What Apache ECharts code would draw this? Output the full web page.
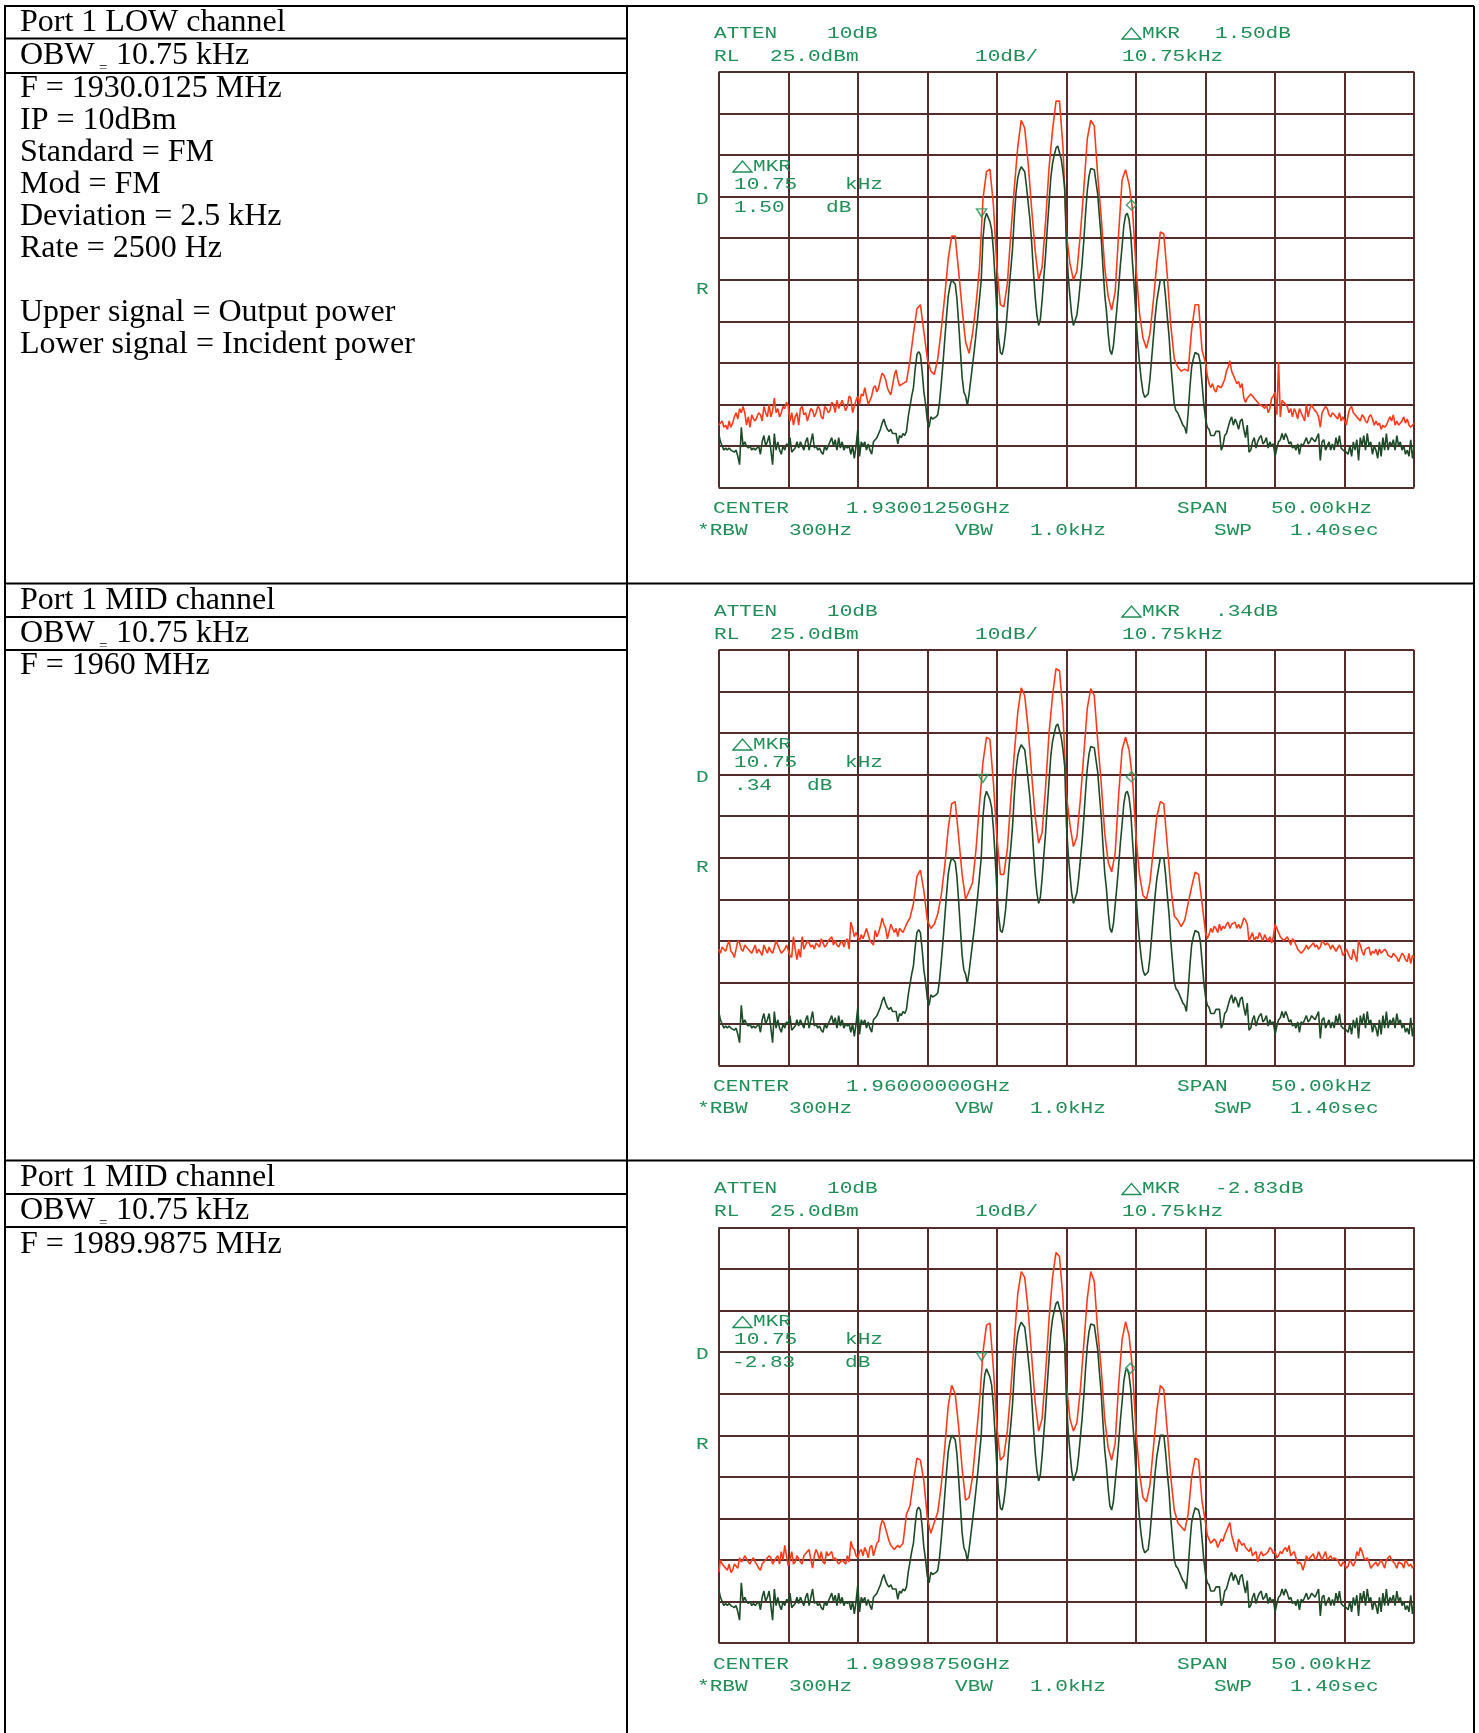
<!DOCTYPE html>
<html><head><meta charset="utf-8">
<style>html,body{margin:0;padding:0;background:#fff}#c{width:1479px;height:1733px}</style>
<script src="https://cdn.jsdelivr.net/npm/echarts@6/dist/echarts.min.js"></script>
</head><body><div id="c"></div>
<script>
// Axis scale of the analyzer screens
const spanKHz = [0, 50];
const levelDBm = [-75, 25];
// Incident power (lower trace), 50 kHz sweep in 0.125 kHz steps, same on all screens (dBm)
const incidentPower = [
-62,-64,-65,-66,-65.5,-66,-65.5,-66,
-66,-66.5,-66,-67.5,-69.5,-60.5,-65,-64,
-65,-65.5,-65,-66,-65.5,-66,-66,-65,
-67,-64,-62.5,-65,-64,-62.5,-66,-69.5,
-62,-66,-64,-66,-67,-65,-66,-64.5,
-65,-63,-66.5,-66,-65.5,-64,-65.5,-64,
-65,-66,-64,-63,-66,-64,-62,-65.5,
-65,-66,-65.5,-66.5,-67,-65,-66,-65,
-65,-63,-65,-63.5,-66,-63,-65.5,-64,
-66,-65,-65.5,-65,-67,-65,-68,-65,
-61,-67.5,-64,-65,-64,-66,-64.5,-66,
-67,-64,-64,-63,-62,-61,-59.5,-58.5,
-60,-61,-61.5,-61,-62,-62,-62,-64.5,
-62.5,-63,-62,-62.5,-61.5,-58,-55.5,-53,
-51,-46.5,-43,-42.3,-43,-47,-52,-55,
-59,-60.5,-58,-58.5,-58.8,-58,-57.5,-54.5,
-50,-45,-39.5,-34,-29,-26.5,-25,-24.6,
-26,-29.5,-35.5,-42,-48.5,-52,-53,-55.3,
-52.5,-49,-45.5,-42,-38,-34,-29.5,-25,
-15,-10.5,-9,-9.3,-11,-13,-18,-25,
-33,-39,-42.5,-43,-41,-37.5,-32.5,-27,
-22.5,-17.5,-10,-4,-0.5,1.2,2.2,2.3,
1,-2.5,-6.5,-10.5,-16,-23,-29,-33.5,
-36,-34.5,-30,-24.5,-19,-12.5,-6.5,-0.5,
3,5,6.7,7.2,7,4,1,-3,
-17,-24,-29,-33.5,-36,-36,-33.5,-30,
-25.5,-21,-15.5,-9,-3.5,0,1.8,2.2,
1.5,-1.5,-4.5,-10,-15,-22,-28.5,-32.5,
-38,-42,-43,-41,-36.5,-32,-27,-21.5,
-17,-12,-9.5,-9,-10.5,-14,-21,-27,
-34,-40,-45,-49,-52,-53.3,-53.5,-52.5,
-49,-44,-39,-34,-30,-27.5,-25,-24.6,
-25,-29,-34,-38.5,-45,-50,-55,-56.5,
-57,-58,-58,-60,-60.5,-62,-57,-51,
-46,-44,-42.5,-42.3,-43,-45,-50,-55,
-58.5,-60.5,-61,-62.5,-62.5,-62.5,-61.5,-61.5,
-61.5,-66,-65,-62.5,-62,-60.5,-59,-58,
-60,-58.5,-59.5,-61,-59,-58.5,-61,-63,
-60,-66.5,-66,-64,-63,-65.5,-64,-63,
-62.5,-64.5,-64,-63,-65.5,-64,-65,-64.5,
-67.5,-65.5,-64,-63.5,-62,-63.5,-62,-63,
-64.5,-64,-65.5,-65,-66,-64.5,-67,-64.5,
-65,-64,-63,-64.5,-64,-63,-63.5,-64,
-63,-62,-68.5,-64,-63.5,-66,-65,-64,
-66,-64.5,-66,-63,-65,-62.5,-65.5,-66,
-66,-66.5,-67,-65,-67.5,-64,-66,-63.5,
-68.5,-63,-65,-62.5,-66,-62,-65,-64,
-67,-65,-66,-68,-64,-67.5,-63,-66,
-62,-66,-64,-65,-63.5,-66,-62.5,-65,
-64,-66,-65,-67,-66,-67.5,-63.5,-68,
-65];
// Output power (upper trace), one per screen (dBm).
// "Low" side: 0-13 kHz in 0.125 kHz steps; "Peaks": 13-35 kHz in 0.25 kHz steps; "High" side: 35-50 kHz in 0.125 kHz steps.
const outputLowSideA = [
-60,-59.5,-59,-60.5,-60,-61,-59,-60.5,
-59.5,-58,-57,-58.5,-56,-57,-55.5,-57,
-60,-58,-60.5,-57.5,-58.5,-59,-58,-57,
-57.5,-59,-55.5,-57,-58,-55,-58,-56.5,
-53.5,-57,-56,-58,-57,-55.5,-56,-54.5,
-55.5,-59,-57,-60,-58,-57,-60,-56,
-55.5,-57.5,-57,-59,-59,-56,-56.5,-58,
-57,-55.5,-56,-58,-58.5,-55.5,-56,-57,
-56.5,-54.5,-55,-57,-54,-56,-56,-54,
-54,-56.5,-55.5,-53,-53.5,-57,-57,-54,
-53,-55,-52.5,-53,-51,-53,-55,-54,
-53,-51,-50.5,-52,-51,-49,-47.5,-48,
-49,-51,-52,-52.7,-52.7,-48,-46.7,-49];
const outputPeaksA = [
-50.5,-50,-49.5,-44.5,-38,-32,-31,-37.5,-44,-47,-47.8,-44,
-37,-29,-20,-14.5,-14.5,-23,-32,-40,-42.7,-38,-31,-22,-5.5,1,1.6,-7,
-22,-31,-31.5,-26,-14,-3,7,13.4,11.5,3,-8,-18,-25,-22,-11,2,
11,18,18,7,-14,-21,-25,-23,-14,-3,9,13.4,12,0,-10,-22,
-29,-32.3,-28,-14,-1,1.5,-2,-8,-22,-33,-39,-41.5,-38,-30,-21,-13.5,
-14,-24,-36,-44,-46,-47,-46.5,-47,-37,-31,-31,-42];
const outputHighSideA = [
-45,-48,-50,-51,-50,-51.5,-52,-50.5,
-50.5,-51,-50,-49,-47,-46,-44.5,-47,
-47,-49,-50,-49.5,-51,-50,-53.5,-54.5,
-53.5,-53,-52.5,-53,-53,-54,-54,-55,
-55,-55.5,-56,-55,-57,-56,-53.5,-53,
-52,-57.5,-44.8,-58,-54,-54.5,-54.5,-55.5,
-57,-56,-58,-56,-57,-58.5,-56,-57,
-57,-59,-55,-58,-56,-55,-56,-56.5,
-57,-58,-60.5,-57,-57,-55.5,-56,-57.5,
-58,-57,-57.5,-58,-58.5,-57,-59,-58,
-59,-60,-57.5,-56,-55.5,-57,-57.5,-58,
-58,-59,-57.5,-58,-59,-59.5,-58,-57.5,
-58.5,-60,-59,-60,-59.5,-61,-60,-60.5,
-60,-59,-58,-59,-57.5,-60,-59,-60,
-60,-59,-58,-59.5,-58.5,-60,-60.5,-60,
-59.5];
const outputLowSideB = [
-47,-48,-46.5,-47,-47.5,-46,-45,-47.5,
-48,-49,-47,-45,-45.5,-47,-47.5,-46,
-46,-47,-47.5,-48,-47,-46,-48,-47,
-47,-48.5,-46,-47,-48,-46.5,-47.5,-48,
-46.5,-45,-45,-47,-48,-47.5,-47,-46,
-46,-48.5,-49,-44,-47,-49.5,-47,-49,
-44,-47,-46,-45,-45.5,-46.5,-46,-47,
-45.5,-46,-46.5,-44.5,-45.5,-46.5,-46,-45,
-45,-44,-46,-45,-46,-46.5,-45.5,-45,
-46.5,-45,-44.5,-47,-40.5,-42,-44,-43,
-44,-45,-43.5,-44.5,-44.5,-42,-42,-45,
-45,-46,-42.5,-44,-43,-41.5,-39.5,-41,
-42,-44.5,-44.5,-41,-41,-43,-42,-44];
const outputPeaksB = [
-42,-43,-41,-39.5,-36,-29.5,-28,-33,-40,-42,-41,-38.5,
-34,-27,-18,-12,-11.5,-20,-29,-35,-33,-31,-23,-12,-2,4,3.5,-7,
-20,-29,-29,-23,-11,0,10,15.9,14,6,-5,-15,-21.5,-19,-8,5,
14,20.5,20,10,-10,-17,-22.3,-20,-11,0,11,15.7,14,3,-7,-19,
-26,-28.4,-24,-10,1,4,1,-6,-20,-29,-34,-35,-31,-23,-15,-11.5,
-12,-22,-32,-39,-40,-41.6,-40,-36,-32,-28.5,-29,-36];
const outputHighSideB = [
-43,-44.5,-43.5,-42,-43,-41.5,-42,-43,
-41,-42.5,-41.5,-42,-41,-40.5,-42,-41,
-41,-40.5,-42,-41,-42,-41,-39.5,-40,
-41,-45,-44,-43,-45,-44,-44.5,-43,
-43,-45,-43.5,-44.5,-45,-44,-45.5,-44,
-41,-42,-43,-44,-44,-45,-44.5,-44,
-45,-46,-44.5,-45,-46,-47,-47,-48,
-48,-47,-46,-47,-46.5,-46,-45.5,-46.5,
-46,-47,-46.5,-45,-45,-46,-45.5,-46,
-47,-46,-46,-47.5,-47.5,-46,-47,-48.5,
-48,-47,-47,-49,-49.5,-47,-47,-50,
-45,-46,-47.5,-48.5,-47,-47,-46.5,-48.5,
-47.5,-48,-47,-48.5,-47,-48,-48,-47,
-47.5,-48.5,-48.5,-49,-48,-48.5,-49,-50,
-49,-48,-48.5,-49.5,-50,-48,-50.5,-48.5,
-49];
const outputLowSideC = [
-58,-55,-56,-56.5,-57,-57.5,-56,-58,
-57.5,-56,-56.5,-57,-54.5,-55.5,-55,-54,
-54,-55.5,-56,-55,-54.5,-55.5,-55.5,-57,
-57.5,-56,-56,-55,-55,-54,-54.5,-56,
-56,-54.5,-54,-56,-53,-55,-51.5,-54,
-56.5,-55,-53,-56,-55.5,-54,-54,-55.5,
-56,-54,-54,-53,-52.5,-55,-57,-54,
-52.5,-53.5,-55,-53,-55.5,-56,-53,-54,
-54,-53,-55,-54.5,-54.5,-56,-56,-55,
-55,-56,-54,-55.5,-50.5,-52,-52.5,-54,
-54.5,-53,-52.5,-54,-52,-53,-54.5,-52,
-51.5,-54,-52.5,-51,-50.5,-47,-45.5,-46,
-46,-49,-50.5,-51.5,-52,-52.5,-52.5,-51.5];
const outputPeaksC = [
-52,-51,-44,-42,-36,-30.5,-31,-36,-45,-48.6,-46,-43.5,
-37,-28,-18,-13,-15,-23,-33,-40.6,-40,-35,-26,-17,-5,1.5,2,-9,
-23,-31,-30,-24,-14,-2,9,14.4,13,5,-6,-17,-24,-21,-10,3,
13,19,18,8,-13,-21,-24,-22,-14,-3,8,14.4,12,0,-9,-21,
-28,-31,-27,-13,-2,2.3,-1,-9,-24,-34,-40,-41,-37,-28,-19,-13,
-14,-24,-35,-43,-46,-47,-48,-44,-35,-30.5,-31,-41];
const outputHighSideC = [
-46,-49,-50,-51,-51,-50,-50.5,-52,
-51,-50,-50.5,-49,-49,-47,-46,-49,
-49,-52,-53,-50,-50,-51.5,-51,-52,
-52,-53,-52,-54,-54,-53,-55.5,-54,
-53,-54,-54,-53.5,-53,-52,-52.5,-53.5,
-53,-54.5,-54,-53,-53.5,-52.5,-52,-53,
-51.5,-54,-54,-53,-54.5,-56,-55.5,-56,
-57.5,-56,-54,-55,-55,-54,-53.5,-55,
-54.5,-53,-53,-55,-54,-53,-55,-54.5,
-54,-55,-54.5,-54.5,-55,-56,-56.5,-55.5,
-56,-57,-56.5,-55,-55,-56.5,-55.5,-53,
-54,-52,-53,-54.5,-55,-54.5,-55.5,-57,
-57,-56,-55.5,-56.5,-56.5,-55,-56,-57,
-55,-54.5,-54,-55,-55,-56,-57,-55.5,
-55.5,-56,-57,-55,-55,-56.5,-56,-57,
-56];
// Delta markers [kHz, dBm], one per screen
const refMarkers = [[18.9,-8.9],[19,-5.9],[18.9,-6.1]];
const deltaMarkers = [[29.67,-7],[29.67,-5.5],[29.6,-8.9]];
// Text
const centers = ['1.93001250GHz','1.96000000GHz','1.98998750GHz'];
const mkrValues = ['1.50dB','.34dB','-2.83dB'];
const mkrInner = [['1.50','dB',826],['.34','dB',807],['-2.83','dB',845]];
const cellTexts = [
 [['Port 1 LOW channel',23],['F = 1930.0125 MHz',89],['IP = 10dBm',121],['Standard = FM',153],['Mod = FM',185],['Deviation = 2.5 kHz',217],['Rate = 2500 Hz',249],['Upper signal = Output power',313],['Lower signal = Incident power',345]],
 [['Port 1 MID channel',601],['F = 1960 MHz',666]],
 [['Port 1 MID channel',1178],['F = 1989.9875 MHz',1244.5]]
];
const obwRows = [56,634,1211];
const fullRules = [6,583.5,1160.5];
const cellRules = [38.5,73,617,650,1194,1227];
const outputs = [
 [outputLowSideA,outputPeaksA,outputHighSideA],
 [outputLowSideB,outputPeaksB,outputHighSideB],
 [outputLowSideC,outputPeaksC,outputHighSideC]];

const G = [72,650,1227.5], H = 415.5, GL = 718.7, GW = 695.5;
const GREEN = '#1f8f57', RED = '#ff3b1c', DARK = '#1d4a27', GRIDC = '#552c2c';
const pairs = a => a.map((v,i)=>[i*(spanKHz[1]-spanKHz[0])/(a.length-1),v]);
const sweep = t => [
  ...t[0].map((v,i)=>[i*0.125,v]),
  ...t[1].map((v,i)=>[13+i*0.25,v]),
  ...t[2].map((v,i)=>[35+i*0.125,v])];

const grid=[],xAxis=[],yAxis=[],series=[],graphic=[];
const mono=(t,x,y)=>graphic.push({type:'text',x,y,scaleX:1.24,silent:true,z:20,
  style:{text:t,fill:GREEN,font:'17px "Liberation Mono"',verticalAlign:'middle',align:'left'}});
const serif=(t,x,y,size)=>graphic.push({type:'text',x,y,silent:true,z:20,
  style:{text:t,fill:'#000',font:(size||32)+'px "Liberation Serif"',verticalAlign:'middle',align:'left'}});
const tri=(x,y)=>graphic.push({type:'polygon',silent:true,z:20,
  shape:{points:[[x,y],[x+9.5,y-11],[x+19,y]]},style:{fill:'none',stroke:GREEN,lineWidth:1.3}});

G.forEach((g,k)=>{
  grid.push({left:GL,top:g,width:GW,height:H,containLabel:false});
  const line={show:true,lineStyle:{color:GRIDC,width:2}};
  xAxis.push({type:'value',gridIndex:k,min:spanKHz[0],max:spanKHz[1],interval:5,axisLabel:{show:false},axisTick:{show:false},axisLine:{show:false},splitLine:line});
  yAxis.push({type:'value',gridIndex:k,min:levelDBm[0],max:levelDBm[1],interval:10,axisLabel:{show:false},axisTick:{show:false},axisLine:{show:false},splitLine:line});
  series.push({type:'line',name:'Output power',xAxisIndex:k,yAxisIndex:k,data:sweep(outputs[k]),showSymbol:false,silent:true,animation:false,z:3,lineStyle:{color:RED,width:1.6}});
  series.push({type:'line',name:'Incident power',xAxisIndex:k,yAxisIndex:k,data:pairs(incidentPower),showSymbol:false,silent:true,animation:false,z:4,lineStyle:{color:DARK,width:1.6}});
  series.push({type:'scatter',xAxisIndex:k,yAxisIndex:k,data:[refMarkers[k]],symbol:'triangle',symbolRotate:180,symbolSize:[10,8],silent:true,animation:false,z:5,itemStyle:{color:'rgba(0,0,0,0)',borderColor:GREEN,borderWidth:1.5}});
  series.push({type:'scatter',xAxisIndex:k,yAxisIndex:k,data:[deltaMarkers[k]],symbol:'diamond',symbolSize:10,silent:true,animation:false,z:5,itemStyle:{color:'rgba(0,0,0,0)',borderColor:GREEN,borderWidth:1.5}});

  const b=g+H;
  mono('ATTEN',714,g-39); mono('10dB',827,g-39);
  tri(1122,g-33); mono('MKR',1142,g-39); mono(mkrValues[k],1215,g-39);
  mono('RL',714,g-16); mono('25.0dBm',770,g-16); mono('10dB/',975,g-16); mono('10.75kHz',1122,g-16);
  mono('CENTER',713,b+21); mono(centers[k],846,b+21); mono('SPAN',1177,b+21); mono('50.00kHz',1271,b+21);
  mono('*RBW',697,b+43); mono('300Hz',789,b+43); mono('VBW',955,b+43); mono('1.0kHz',1030,b+43); mono('SWP',1214,b+43); mono('1.40sec',1290,b+43);
  mono('D',696,g+127); mono('R',696,g+217);
  tri(733,g+100); mono('MKR',753,g+94);
  mono('10.75',734,g+112); mono('kHz',845,g+112);
  mono(mkrInner[k][0],k==2?732:734,g+135); mono(mkrInner[k][1],mkrInner[k][2],g+135);

  cellTexts[k].forEach(c=>serif(c[0],20,c[1]));
  serif('OBW',20,obwRows[k]); serif('=',99,obwRows[k]+12,15); serif('10.75 kHz',116,obwRows[k]);
});
fullRules.forEach(y=>graphic.push({type:'line',silent:true,z:10,shape:{x1:4,y1:y,x2:1474,y2:y},style:{stroke:'#000',lineWidth:2}}));
cellRules.forEach(y=>graphic.push({type:'line',silent:true,z:10,shape:{x1:4,y1:y,x2:627,y2:y},style:{stroke:'#000',lineWidth:2}}));
[5,627,1474].forEach(x=>graphic.push({type:'line',silent:true,z:10,shape:{x1:x,y1:6,x2:x,y2:1733},style:{stroke:'#000',lineWidth:2}}));

const chart=echarts.init(document.getElementById('c'),null,{renderer:'canvas'});
chart.setOption({animation:false,backgroundColor:'#fff',grid,xAxis,yAxis,series,graphic});
</script></body></html>
